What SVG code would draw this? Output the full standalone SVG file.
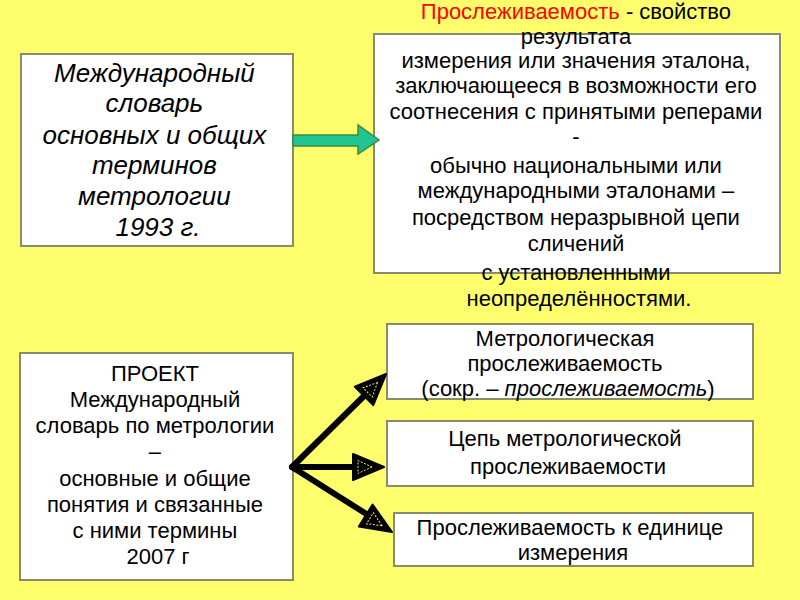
<svg xmlns="http://www.w3.org/2000/svg" width="800" height="600" viewBox="0 0 800 600">
<defs>
<style>
.box{fill:#ffffff;stroke:#8a8a6e;stroke-width:2}
.t{font-family:"Liberation Sans",Arial,sans-serif;fill:#000;text-anchor:middle}
.it{font-style:italic}
.blk{stroke:#000;stroke-width:6;fill:none;stroke-linecap:round}
.head{fill:#000;stroke:#000;stroke-width:2;stroke-linejoin:round}
.inner{fill:none;stroke:#e8e860;stroke-width:1;stroke-dasharray:2 1.5}
</style>
</defs>
<rect x="0" y="0" width="800" height="600" fill="#ffff6e"/>

<g id="node-vim1993">
<rect class="box" x="21" y="54" width="272" height="192"/>
<text class="t it" font-size="26">
<tspan x="158" y="82">Международный</tspan>
<tspan x="158" y="112">словарь</tspan>
<tspan x="158" y="144">основных и общих</tspan>
<tspan x="158" y="174">терминов</tspan>
<tspan x="158" y="205">метрологии</tspan>
<tspan x="158" y="236">1993 г.</tspan>
</text>
</g>

<g id="node-definition">
<rect class="box" x="374" y="34" width="406" height="239"/>
<text class="t" font-size="22">
<tspan x="579" y="19"><tspan fill="#ff0000">Прослеживаемость</tspan> - свойство</tspan>
<tspan x="579" y="44">результата</tspan>
<tspan x="579" y="68">измерения или  значения эталона,</tspan>
<tspan x="579" y="93">заключающееся в возможности его</tspan>
<tspan x="579" y="119">соотнесения с принятыми реперами</tspan>
<tspan x="579" y="144">-</tspan>
<tspan x="579" y="173">обычно национальными или</tspan>
<tspan x="579" y="198">международными эталонами –</tspan>
<tspan x="579" y="225">посредством  неразрывной цепи</tspan>
<tspan x="579" y="251">сличений</tspan>
<tspan x="579" y="280">с установленными</tspan>
<tspan x="579" y="306">неопределённостями.</tspan>
</text>
</g>

<g id="node-vim2007">
<rect class="box" x="20" y="353" width="273" height="227"/>
<text class="t" font-size="22">
<tspan x="158" y="381">ПРОЕКТ</tspan>
<tspan x="158" y="407">Международный</tspan>
<tspan x="158" y="433">словарь по метрологии</tspan>
<tspan x="158" y="459">–</tspan>
<tspan x="158" y="486">основные и общие</tspan>
<tspan x="158" y="512">понятия и связанные</tspan>
<tspan x="158" y="538">с ними термины</tspan>
<tspan x="158" y="564">2007 г</tspan>
</text>
</g>

<g id="node-metro-trace">
<rect class="box" x="387" y="324" width="366" height="75"/>
<text class="t" font-size="22">
<tspan x="568" y="346">Метрологическая</tspan>
<tspan x="568" y="371">прослеживаемость</tspan>
<tspan x="568" y="396">(сокр. – <tspan font-style="italic">прослеживаемость</tspan>)</tspan>
</text>
</g>

<g id="node-chain">
<rect class="box" x="387" y="421" width="366" height="65"/>
<text class="t" font-size="22">
<tspan x="568" y="446">Цепь метрологической</tspan>
<tspan x="568" y="474">прослеживаемости</tspan>
</text>
</g>

<g id="node-unit">
<rect class="box" x="394" y="513" width="359" height="53"/>
<text class="t" font-size="22">
<tspan x="573" y="535">Прослеживаемость к единице</tspan>
<tspan x="573" y="560">измерения</tspan>
</text>
</g>

<g id="connectors">
<path d="M293,135 H358 V125 L379,140 L358,154 V146 H293 Z" fill="#1fc592" stroke="#3a8a3a" stroke-width="1.5"/>

<line class="blk" x1="292" y1="467" x2="366" y2="394"/>
<line class="blk" x1="292" y1="467" x2="358" y2="467"/>
<line class="blk" x1="292" y1="467" x2="368" y2="515"/>

<g transform="translate(386,374) rotate(135)">
<path class="head" d="M0,0 L31,-13 L31,13 Z"/>
<path class="inner" d="M12,0 L26,-6.5 L26,6.5 Z"/>
</g>
<g transform="translate(384,467) rotate(180)">
<path class="head" d="M0,0 L31,-13 L31,13 Z"/>
<path class="inner" d="M12,0 L26,-6.5 L26,6.5 Z"/>
</g>
<g transform="translate(392,532) rotate(212)">
<path class="head" d="M0,0 L31,-13 L31,13 Z"/>
<path class="inner" d="M12,0 L26,-6.5 L26,6.5 Z"/>
</g>
</g>
</svg>
